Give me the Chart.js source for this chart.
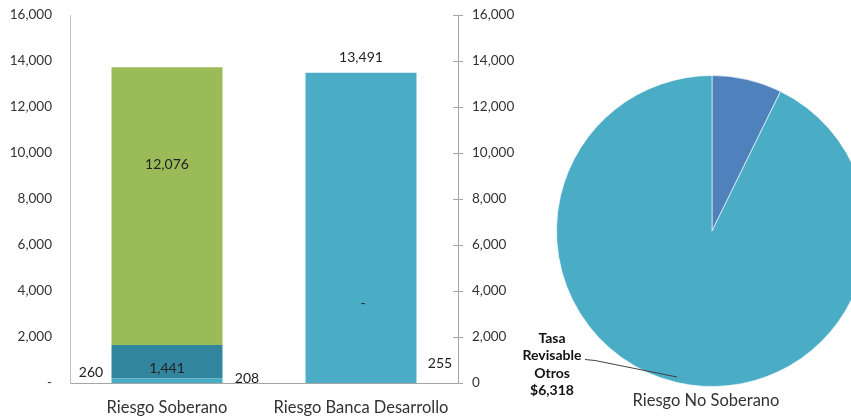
<!DOCTYPE html>
<html>
<head>
<meta charset="utf-8">
<script src="https://cdn.jsdelivr.net/npm/chart.js@4/dist/chart.umd.min.js"></script>
<style>
    html, body { margin: 0; padding: 0; background: #fff; }
    #wrap { position: relative; width: 851px; height: 417px; overflow: hidden; }
    #barChart { position: absolute; left: 0; top: 0; }
    #pieChart { position: absolute; left: 500px; top: 0; }
</style>
</head>
<body>
<div id="wrap">
    <canvas id="barChart" width="540" height="417"></canvas>
    <canvas id="pieChart" width="424" height="417"></canvas>
</div>
<script>
// --- data ---
const categories = ['Riesgo Soberano', 'Riesgo Banca Desarrollo'];
const fijaValues = [208, 13491];       // light blue
const variableValues = [1441, 0];      // dark teal
const otrosValues = [12076, 0];        // green
const menoresValues = [260, 255];      // small amounts shown as labels only
const yTicks = [0, 2000, 4000, 6000, 8000, 10000, 12000, 14000, 16000];

const pieLabels = ['Otros', 'Tasa Revisable Otros'];
const pieValues = [495, 6318];
const pieTitle = 'Riesgo No Soberano';

const FONT = 'Lato, "Open Sans", sans-serif';
const TEXT = '#333333';
const AXIS = '#A6A6A6';

const fmt = v => v.toLocaleString('en-US');

// --- bar chart ---
const barLabelPlugin = {
    id: 'barLabels',
    afterDatasetsDraw(chart) {
        const ctx = chart.ctx;
        const el = (d, i) => chart.getDatasetMeta(d).data[i];
        const put = (t, x, y) => ctx.fillText(t, x, y);
        ctx.save();
        ctx.font = '14px ' + FONT;
        ctx.fillStyle = '#222';
        ctx.textAlign = 'center';
        ctx.textBaseline = 'middle';
        // Riesgo Soberano
        put(fmt(otrosValues[0]), el(2, 0).x, el(2, 0).y + 97);
        put(fmt(variableValues[0]), el(1, 0).x, el(1, 0).base - 10);
        put(fmt(menoresValues[0]), el(0, 0).x - 76, el(0, 0).y - 6);
        put(fmt(fijaValues[0]), el(0, 0).x + 80, el(0, 0).base - 5);
        // Riesgo Banca Desarrollo
        put(fmt(fijaValues[1]), el(0, 1).x, el(0, 1).y - 15);
        put(variableValues[1] === 0 ? '-' : fmt(variableValues[1]), el(0, 1).x + 2, el(0, 1).base - 80);
        put(fmt(menoresValues[1]), el(0, 1).x + 79, el(0, 1).base - 20);
        ctx.restore();
    },
    afterDraw(chart) {
        // cross tick marks on the right axis
        const s = chart.scales.y2;
        const ctx = chart.ctx;
        ctx.save();
        ctx.strokeStyle = AXIS;
        ctx.lineWidth = 1;
        s.ticks.forEach(t => {
            const y = Math.round(s.getPixelForValue(t.value)) + 0.5;
            ctx.beginPath();
            ctx.moveTo(s.left - 5, y);
            ctx.lineTo(s.left + 5, y);
            ctx.stroke();
        });
        ctx.restore();
    }
};

new Chart(document.getElementById('barChart'), {
    type: 'bar',
    data: {
        labels: categories,
        datasets: [
            { label: 'Fija', data: fijaValues, backgroundColor: '#4BACC6' },
            { label: 'Variable', data: variableValues, backgroundColor: '#31859C' },
            { label: 'Otros', data: otrosValues, backgroundColor: '#9BBB59' }
        ]
    },
    options: {
        responsive: false,
        animation: false,
        categoryPercentage: 0.8,
        barPercentage: 0.715,
        layout: { padding: { top: 15, left: 0, right: 0, bottom: 0 } },
        plugins: { legend: { display: false }, tooltip: { enabled: false } },
        scales: {
            x: {
                stacked: true,
                grid: { display: false, drawTicks: false },
                border: { display: true, color: AXIS },
                ticks: { color: TEXT, font: { family: FONT, size: 16.5 }, padding: 15 },
                afterFit: s => { s.height = 34; s.paddingLeft = 0; s.paddingRight = 0; }
            },
            y: {
                stacked: true,
                position: 'left',
                min: 0, max: 16000,
                afterBuildTicks: s => { s.ticks = yTicks.map(v => ({ value: v })); },
                grid: { display: false, drawTicks: false },
                border: { display: true, color: '#BFBFBF' },
                ticks: {
                    color: TEXT, font: { family: FONT, size: 13.5 }, padding: 18,
                    callback: v => v === 0 ? '-' : fmt(v)
                },
                afterFit: s => { s.width = 70; s.paddingTop = 0; s.paddingBottom = 0; }
            },
            y2: {
                display: true,
                position: 'right',
                min: 0, max: 16000,
                afterBuildTicks: s => { s.ticks = yTicks.map(v => ({ value: v })); },
                grid: { display: false, drawTicks: false },
                border: { display: true, color: AXIS },
                ticks: {
                    color: TEXT, font: { family: FONT, size: 13.5 }, padding: 14,
                    callback: v => fmt(v)
                },
                afterFit: s => { s.width = 82; s.paddingTop = 0; s.paddingBottom = 0; }
            }
        }
    },
    plugins: [barLabelPlugin]
});

// --- pie chart ---
const pieTextPlugin = {
    id: 'pieText',
    afterDraw(chart) {
        const ctx = chart.ctx;
        ctx.save();
        // leader line
        ctx.strokeStyle = '#404040';
        ctx.lineWidth = 1;
        ctx.beginPath();
        ctx.moveTo(85, 359.5);
        ctx.lineTo(95, 360.5);
        ctx.lineTo(177, 377);
        ctx.stroke();
        // label
        ctx.fillStyle = '#111';
        ctx.textAlign = 'center';
        ctx.textBaseline = 'middle';
        ctx.font = 'bold 14px ' + FONT;
        const lines = ['Tasa', 'Revisable', 'Otros', '$' + fmt(pieValues[1])];
        lines.forEach((t, i) => ctx.fillText(t, 52, 338 + i * 17.5));
        // title below the pie
        ctx.fillStyle = TEXT;
        ctx.font = '16.5px ' + FONT;
        ctx.fillText(pieTitle, 206, 401);
        ctx.restore();
    }
};

new Chart(document.getElementById('pieChart'), {
    type: 'pie',
    data: {
        labels: pieLabels,
        datasets: [{
            data: pieValues,
            backgroundColor: ['#4F81BD', '#4BACC6'],
            borderColor: 'rgba(255,255,255,0.6)',
            borderWidth: 1
        }]
    },
    options: {
        responsive: false,
        animation: false,
        layout: { padding: { left: 56, right: 56, top: 75, bottom: 30 } },
        plugins: { legend: { display: false }, tooltip: { enabled: false } }
    },
    plugins: [pieTextPlugin]
});
</script>
</body>
</html>
